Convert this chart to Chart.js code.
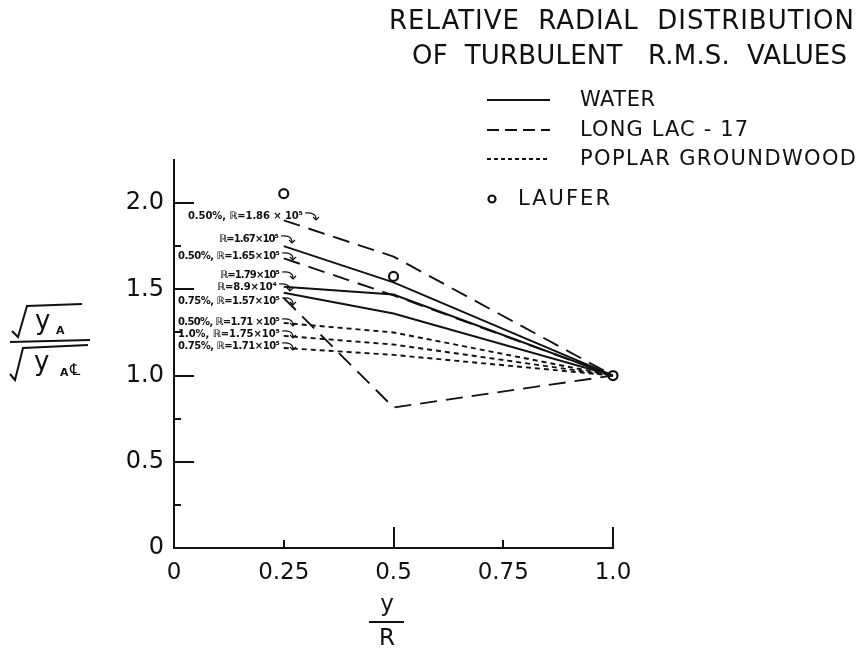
<!DOCTYPE html>
<html>
<head>
<meta charset="utf-8">
<script src="https://cdn.jsdelivr.net/npm/chart.js@4/dist/chart.umd.min.js"></script>
<style>
  html, body { margin: 0; padding: 0; background: #fff; }
  canvas { display: block; }
</style>
</head>
<body>
<canvas id="rmsChart" width="859" height="651"></canvas>
<script>
// y/R stations where the traverses were measured
const stations = [0.25, 0.5, 1.0];

// WATER (solid)
const water167 = [1.75, 1.54, 1.0];
const water179 = [1.515, 1.47, 1.0];
const water89 = [1.48, 1.36, 1.0];

// LONG LAC - 17 (long dash)
const lac186 = [1.90, 1.69, 1.0];
const lac165 = [1.68, 1.465, 1.0];
const lac157 = [1.45, 0.815, 1.0];

// POPLAR GROUNDWOOD (short dash)
const poplar050 = [1.305, 1.25, 1.0];
const poplar100 = [1.23, 1.18, 1.0];
const poplar075 = [1.16, 1.12, 1.0];

// LAUFER (open circles)
const laufer = [2.055, 1.575, 1.0];

// run notes written next to each curve
const runNotes = [
    'ℝ=1.67×10⁵', 'ℝ=1.79×10⁵', 'ℝ=8.9×10⁴',
    '0.50%, ℝ=1.86 × 10⁵', '0.50%, ℝ=1.65×10⁵', '0.75%, ℝ=1.57×10⁵',
    '0.50%, ℝ=1.71 ×10⁵', '1.0%, ℝ=1.75×10⁵', '0.75%, ℝ=1.71×10⁵'
];

const xTickLabels = ['0', '0.25', '0.5', '0.75', '1.0'];
const yTickLabels = ['0', '0.5', '1.0', '1.5', '2.0'];
const legendNames = ['WATER', 'LONG LAC - 17', 'POPLAR GROUNDWOOD', 'LAUFER'];
const titleLines = ['RELATIVE  RADIAL  DISTRIBUTION', 'OF  TURBULENT   R.M.S.  VALUES'];

const ink = '#111';
const longDash = [17, 9];
const shortDash = [5, 4];

// where the hand lettering sits: [right edge x, centre y]
const notePos = [
    [279, 239], [280, 275], [277, 287],
    [303, 216], [280, 256], [280, 301],
    [280, 322], [280, 334], [280, 346]
];

function pts(vals) {
    return stations.map((s, i) => ({ x: s, y: vals[i] }));
}

function curve(vals, dash) {
    return {
        data: pts(vals),
        borderColor: ink,
        borderWidth: 1.9,
        borderDash: dash,
        pointRadius: 0,
        tension: 0,
        fill: false
    };
}

const datasets = [
    curve(water167, []), curve(water179, []), curve(water89, []),
    curve(lac186, longDash), curve(lac165, longDash), curve(lac157, longDash),
    curve(poplar050, shortDash), curve(poplar100, shortDash), curve(poplar075, shortDash),
    {
        data: pts(laufer),
        showLine: false,
        pointStyle: 'circle',
        pointRadius: 4.5,
        pointBorderWidth: 2.2,
        pointBorderColor: ink,
        pointBackgroundColor: '#fff',
        clip: false
    }
];

// spread text over a given width, like the hand lettering
function fitText(ctx, text, x, y, width, align) {
    ctx.letterSpacing = '0px';
    const w = ctx.measureText(text).width;
    const n = [...text].length;
    const sp = n > 1 ? (width - w) / (n - 1) : 0;
    ctx.letterSpacing = sp + 'px';
    ctx.textAlign = 'left';
    ctx.fillText(text, align === 'right' ? x - width : x, y);
    ctx.letterSpacing = '0px';
}

const paperPlugin = {
    id: 'paper',
    afterDraw(chart) {
        const ctx = chart.ctx;
        const xs = chart.scales.x, ys = chart.scales.y;
        const left = chart.chartArea.left, bottom = chart.chartArea.bottom;
        ctx.save();
        ctx.strokeStyle = ink;
        ctx.fillStyle = ink;
        ctx.lineWidth = 2;
        ctx.setLineDash([]);

        // inward ticks
        for (let v = 0.25; v <= 2.0001; v += 0.25) {
            const py = Math.round(ys.getPixelForValue(v));
            const len = Math.abs(v % 0.5) < 1e-6 ? 20 : 7;
            ctx.beginPath(); ctx.moveTo(left, py); ctx.lineTo(left + len, py); ctx.stroke();
        }
        for (let v = 0.25; v <= 1.0001; v += 0.25) {
            const px = Math.round(xs.getPixelForValue(v));
            const len = Math.abs(v % 0.5) < 1e-6 ? 21 : 8;
            ctx.beginPath(); ctx.moveTo(px, bottom); ctx.lineTo(px, bottom - len); ctx.stroke();
        }

        // title
        ctx.textBaseline = 'middle';
        ctx.font = '26px "DejaVu Sans"';
        fitText(ctx, titleLines[0], 389, 22, 465);
        fitText(ctx, titleLines[1], 412, 57, 435);

        // legend
        ctx.font = '21px "DejaVu Sans"';
        const legY = [100, 130, 159, 199];
        const legW = [75, 168, 276, 92];
        const dashes = [[], [12, 6], [4, 3]];
        for (let i = 0; i < 3; i++) {
            ctx.setLineDash(dashes[i]);
            ctx.lineWidth = 1.9;
            ctx.beginPath(); ctx.moveTo(487, legY[i]); ctx.lineTo(550, legY[i]); ctx.stroke();
            ctx.setLineDash([]);
            fitText(ctx, legendNames[i], 580, legY[i] + 1, legW[i]);
        }
        ctx.lineWidth = 2.2;
        ctx.beginPath(); ctx.arc(492, legY[3], 3.5, 0, Math.PI * 2); ctx.stroke();
        fitText(ctx, legendNames[3], 518, legY[3] + 1, legW[3]);

        // run notes with little hooked arrows
        ctx.font = 'bold 10px "DejaVu Sans"';
        ctx.lineWidth = 1.2;
        runNotes.forEach((note, i) => {
            const [rx, ry] = notePos[i];
            const w = i === 3 ? 115 : (note.startsWith('ℝ') ? 60 : 102);
            fitText(ctx, note, rx, ry, w, 'right');
            ctx.beginPath();
            ctx.moveTo(rx + 2, ry - 3);
            ctx.quadraticCurveTo(rx + 13, ry - 4, rx + 13, ry + 3);
            ctx.stroke();
            ctx.beginPath();
            ctx.moveTo(rx + 10, ry + 1);
            ctx.lineTo(rx + 13, ry + 4);
            ctx.lineTo(rx + 16, ry + 1);
            ctx.stroke();
        });

        // x axis title  y / R
        ctx.font = '23px "DejaVu Sans"';
        ctx.textAlign = 'center';
        ctx.fillText('y', 387, 605);
        ctx.lineWidth = 2;
        ctx.beginPath(); ctx.moveTo(369, 622); ctx.lineTo(404, 622); ctx.stroke();
        ctx.fillText('R', 387, 639);

        // y axis title  sqrt(yA) / sqrt(yA centreline)
        ctx.lineWidth = 2;
        ctx.beginPath();
        ctx.moveTo(12, 331); ctx.lineTo(18, 337); ctx.lineTo(27, 306); ctx.lineTo(82, 304);
        ctx.stroke();
        ctx.beginPath(); ctx.moveTo(10, 342); ctx.lineTo(90, 340); ctx.stroke();
        ctx.beginPath();
        ctx.moveTo(10, 374); ctx.lineTo(15, 380); ctx.lineTo(23, 348); ctx.lineTo(88, 345);
        ctx.stroke();
        ctx.textAlign = 'left';
        ctx.font = '26px "DejaVu Sans"';
        ctx.fillText('y', 35, 322);
        ctx.fillText('y', 34, 363);
        ctx.font = 'bold 11px "DejaVu Sans"';
        ctx.fillText('A', 56, 331);
        ctx.fillText('A', 60, 373);
        ctx.font = '16px "DejaVu Sans"';
        ctx.fillText('℄', 70, 371);

        ctx.restore();
    }
};

const rmsChart = new Chart(document.getElementById('rmsChart').getContext('2d'), {
    type: 'line',
    data: { datasets: datasets },
    options: {
        responsive: false,
        animation: false,
        layout: { padding: { top: 160, right: 246, left: 0, bottom: 0 } },
        plugins: {
            legend: { display: false },
            tooltip: { enabled: false }
        },
        scales: {
            x: {
                type: 'linear',
                min: 0,
                max: 1,
                grid: { display: false, drawTicks: false },
                border: { display: true, color: ink, width: 2 },
                afterFit: (s) => { s.height = 103; },
                afterBuildTicks: (s) => { s.ticks = xTickLabels.map((t, i) => ({ value: i * 0.25 })); },
                ticks: {
                    autoSkip: false,
                    maxRotation: 0,
                    padding: 11,
                    color: ink,
                    font: { family: 'DejaVu Sans', size: 23 },
                    callback: (v, i) => xTickLabels[i]
                }
            },
            y: {
                min: 0,
                max: 2.25,
                grid: { display: false, drawTicks: false },
                border: { display: true, color: ink, width: 2 },
                afterFit: (s) => { s.width = 174; },
                afterBuildTicks: (s) => { s.ticks = yTickLabels.map((t, i) => ({ value: i * 0.5 })); },
                ticks: {
                    autoSkip: false,
                    padding: 10,
                    color: ink,
                    font: { family: 'DejaVu Sans', size: 24 },
                    callback: (v, i) => yTickLabels[i]
                }
            }
        }
    },
    plugins: [paperPlugin]
});
</script>
</body>
</html>
